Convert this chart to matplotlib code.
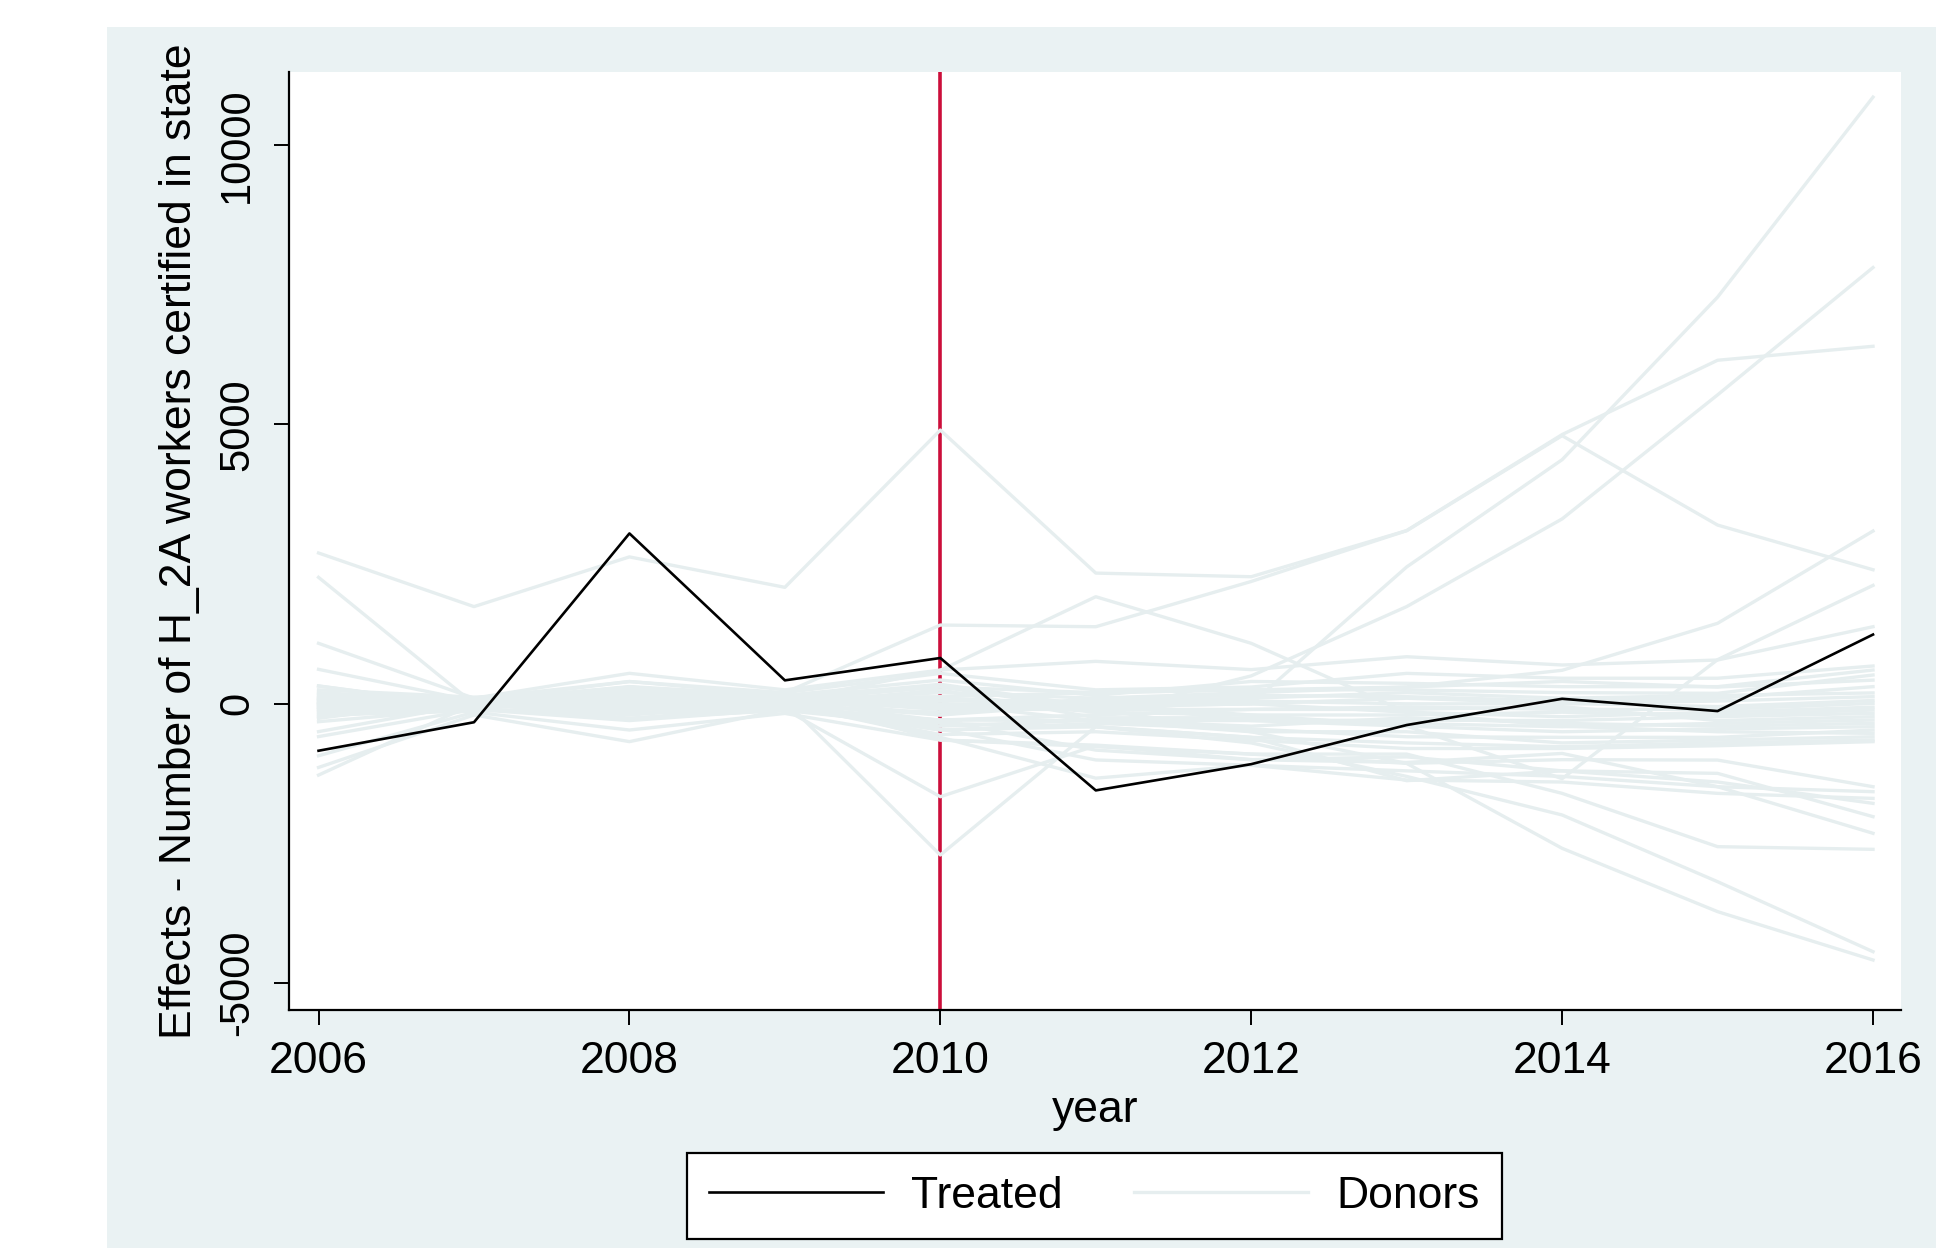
import matplotlib
matplotlib.use("Agg")
import matplotlib.pyplot as plt
from matplotlib.patches import Rectangle

plt.rcParams['font.family'] = ['Liberation Sans', 'DejaVu Sans']
plt.rcParams['axes.unicode_minus'] = False

years = [2006, 2007, 2008, 2009, 2010, 2011, 2012, 2013, 2014, 2015, 2016]

treated = [-840, -330, 3050, 420, 820, -1550, -1080, -380, 90, -130, 1240]

# synthetic-control donor effects
donors = [
    [2700, 1740, 2630, 2085, 4900, 2340, 2275, 3100, 4800, 3200, 2400],
    [100, 0, 190, 200, 1410, 1380, 2190, 3100, 4820, 6150, 6400],
    [-100, 50, 300, 100, 350, -50, 0, 2450, 4370, 7280, 10860],
    [320, -50, 100, -50, -300, -200, 500, 1740, 3310, 5530, 7810],
    [2264, 0, -100, 50, 600, 1917, 1083, -150, -400, -500, -529],
    [1083, 100, 200, 0, -200, 100, 200, 300, 400, 300, 424],
    [617, 50, 400, 150, 300, 200, 250, 300, 600, 1441, 3093],
    [319, -50, 100, 0, 100, 0, -200, -400, -1340, 790, 2120],
    [-260, 100, 546, 250, 604, 760, 612, 843, 695, 784, 1380],
    [-587, -100, -300, -100, -290, -300, -500, -1066, -2587, -3720, -4586],
    [-498, 0, -200, 0, -469, -410, -700, -1300, -1990, -3184, -4437],
    [-930, -150, -469, -172, -648, -767, -900, -900, -1603, -2557, -2605],
    [-1139, -200, -677, -100, -1663, -750, -1000, -1050, -888, -1484, -2318],
    [-1276, 0, 0, 50, -2706, -410, -600, -1376, -1200, -1245, -2020],
    [150, 100, 397, 200, 545, 250, 300, 545, 458, 458, 677],
    [200, 50, 308, 150, 426, 150, 400, 367, 307, 307, 605],
    [100, 80, 189, 100, 128, 200, 250, 250, 200, 188, 516],
    [60, 20, 99, 50, 200, 100, 150, 128, 50, 100, 307],
    [30, -30, 50, 0, 50, 50, 100, 200, 100, 150, 195],
    [10, 0, 0, 20, -50, 0, 50, 0, 0, 50, 128],
    [-20, 30, -50, -30, 0, -54, 0, 100, 8, -50, 60],
    [-50, -20, 150, 80, -100, -100, -100, -54, -100, -100, 8],
    [-80, 50, -100, -50, -150, 100, 0, -150, -231, -150, -60],
    [-110, -60, 0, 30, 100, -150, -200, -200, -150, -200, -111],
    [-140, 0, 250, 100, -200, 0, -300, -292, -300, -231, -170],
    [-170, -100, -170, -100, -290, -200, -100, -100, -50, -300, -231],
    [180, 60, 50, -20, 250, -250, -250, -352, -410, -350, -290],
    [-320, -80, -260, -120, -400, -292, -400, -250, -350, -400, -350],
    [250, 120, 200, 50, 0, -300, -300, -400, -500, -450, -410],
    [-200, -130, -50, -80, -469, -350, -450, -590, -600, -600, -470],
    [120, 40, 100, 60, 300, -100, -500, -500, -700, -648, -590],
    [80, 0, -150, -100, -350, -411, -600, -700, -768, -700, -648],
    [-230, -40, 50, 0, -550, -500, -650, -800, -800, -750, -677],
    [40, -10, 300, 100, -648, -740, -900, -1066, -1000, -1007, -1484],
    [-60, 20, -260, -50, -450, -1005, -1100, -1200, -1300, -1484, -1573],
    [0, -30, 0, 0, -600, -1331, -1100, -1364, -1400, -1603, -1693],
    [-10, 80, 150, 50, -300, -829, -1000, -950, -1200, -1400, -1782],
]

treat_year = 2010
xticks = [2006, 2008, 2010, 2012, 2014, 2016]
yticks = [-5000, 0, 5000, 10000]

bg = '#EAF2F3'
donor_col = '#E6EEEF'
red = '#CC0E3A'

fig = plt.figure(figsize=(19.36, 12.48), dpi=100)
fig.patch.set_facecolor('white')
fig.patches.append(Rectangle((107 / 1936, 0), 1 - 107 / 1936, 1 - 27 / 1248,
                             transform=fig.transFigure, facecolor=bg,
                             edgecolor='none', zorder=-10))

ax = fig.add_axes([289 / 1936, 1 - 1010 / 1248, (1901 - 289) / 1936, (1010 - 72) / 1248])
ax.set_facecolor('white')

ax.axvline(treat_year, color=red, lw=2.6, zorder=1)
for i, d in enumerate(donors):
    ax.plot(years, d, color=donor_col, lw=2.4, zorder=2,
            label='Donors' if i == 0 else None)
ax.plot(years, treated, color='black', lw=1.9, zorder=3, label='Treated')

ax.set_xlim(2005.81, 2016.18)
ax.set_ylim(-5481, 11310)
ax.set_xticks(xticks)
ax.set_yticks(yticks)

for s in ['top', 'right']:
    ax.spines[s].set_visible(False)
for s in ['left', 'bottom']:
    ax.spines[s].set_linewidth(1.6)
    ax.spines[s].set_color('black')

ax.tick_params(axis='both', direction='out', length=11, width=1.4, color='black')
ax.tick_params(axis='x', labelsize=32, pad=11)
ax.tick_params(axis='y', labelsize=30, pad=12)
for lab in ax.get_yticklabels():
    lab.set_rotation(90)
    lab.set_va('center')

ax.set_xlabel('year', fontsize=32, labelpad=6)
ax.set_ylabel('Effects - Number of H_2A workers certified in state', fontsize=32, labelpad=12)

handles, labels = ax.get_legend_handles_labels()
order = [labels.index('Treated'), labels.index('Donors')]
leg = fig.legend([handles[k] for k in order], [labels[k] for k in order],
                 loc='center', bbox_to_anchor=(1094.5 / 1936, 1 - 1196 / 1248),
                 ncol=2, fontsize=32, frameon=True, fancybox=False,
                 handlelength=3.9, handletextpad=0.65, columnspacing=1.6,
                 borderpad=0.5)
leg.get_frame().set_edgecolor('black')
leg.get_frame().set_linewidth(1.6)
leg.get_frame().set_facecolor('white')
leg.get_frame().set_alpha(1)

fig.savefig('out.png', dpi=100)
